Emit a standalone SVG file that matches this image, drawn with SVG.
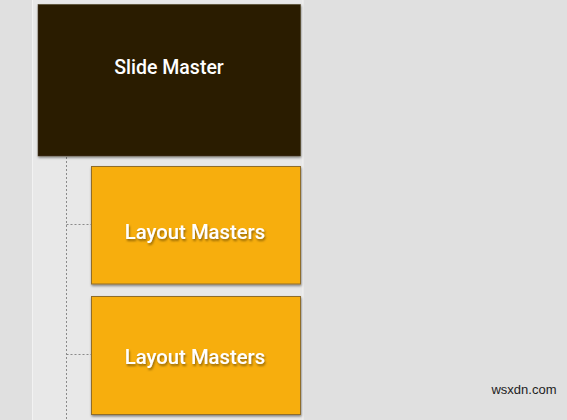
<svg xmlns="http://www.w3.org/2000/svg" width="567" height="420" viewBox="0 0 567 420">
<defs>
<filter id="sh" x="-10%" y="-10%" width="125%" height="125%">
<feDropShadow dx="0.5" dy="1.5" stdDeviation="1" flood-color="#000" flood-opacity="0.45"/>
</filter>
<filter id="ts" x="-10%" y="-30%" width="125%" height="170%">
<feDropShadow dx="1" dy="2" stdDeviation="1" flood-color="#6a4a00" flood-opacity="0.7"/>
</filter>
<style>
.lay{fill:#f7ae0a;stroke:#8f6d2c;stroke-width:1}
.lbl{font-family:Roboto,"DejaVu Sans Condensed",sans-serif;font-weight:500;font-size:19.5px;fill:#ffffff;text-anchor:middle}
.big{font-size:20.3px}
.dot{stroke:#8a8a8a;stroke-width:1;stroke-dasharray:2 2;fill:none}
</style>
</defs>
<rect x="0" y="0" width="567" height="420" fill="#e0e0e0"/>
<rect x="32" y="0" width="271" height="420" fill="#e8e8e8"/>
<line x1="32.5" y1="0" x2="32.5" y2="420" stroke="#f2f2f2" stroke-width="1"/>
<line x1="303" y1="0" x2="303" y2="420" stroke="#f2f2f2" stroke-width="1"/>
<g id="connectors">
<line class="dot" x1="66.5" y1="157" x2="66.5" y2="420"/>
<line class="dot" x1="66.5" y1="224.5" x2="91" y2="224.5"/>
<line class="dot" x1="66.5" y1="354.5" x2="91" y2="354.5"/>
</g>
<g id="slide-master">
<rect x="38" y="4.5" width="262.5" height="151.5" fill="#2b1c00" stroke="#4a3a20" stroke-width="0.5" filter="url(#sh)"/>
<text class="lbl" x="169" y="74">Slide Master</text>
</g>
<g id="layout-1">
<rect class="lay" x="91.5" y="166.5" width="209" height="117.5" filter="url(#sh)"/>
<text class="lbl big" x="195" y="239" filter="url(#ts)">Layout Masters</text>
</g>
<g id="layout-2">
<rect class="lay" x="91.5" y="296.5" width="209" height="118" filter="url(#sh)"/>
<text class="lbl big" x="195" y="364" filter="url(#ts)">Layout Masters</text>
</g>
<text x="524" y="394" font-family="'Liberation Sans',Arial,sans-serif" font-size="13" fill="#222" text-anchor="middle">wsxdn.com</text>
</svg>
